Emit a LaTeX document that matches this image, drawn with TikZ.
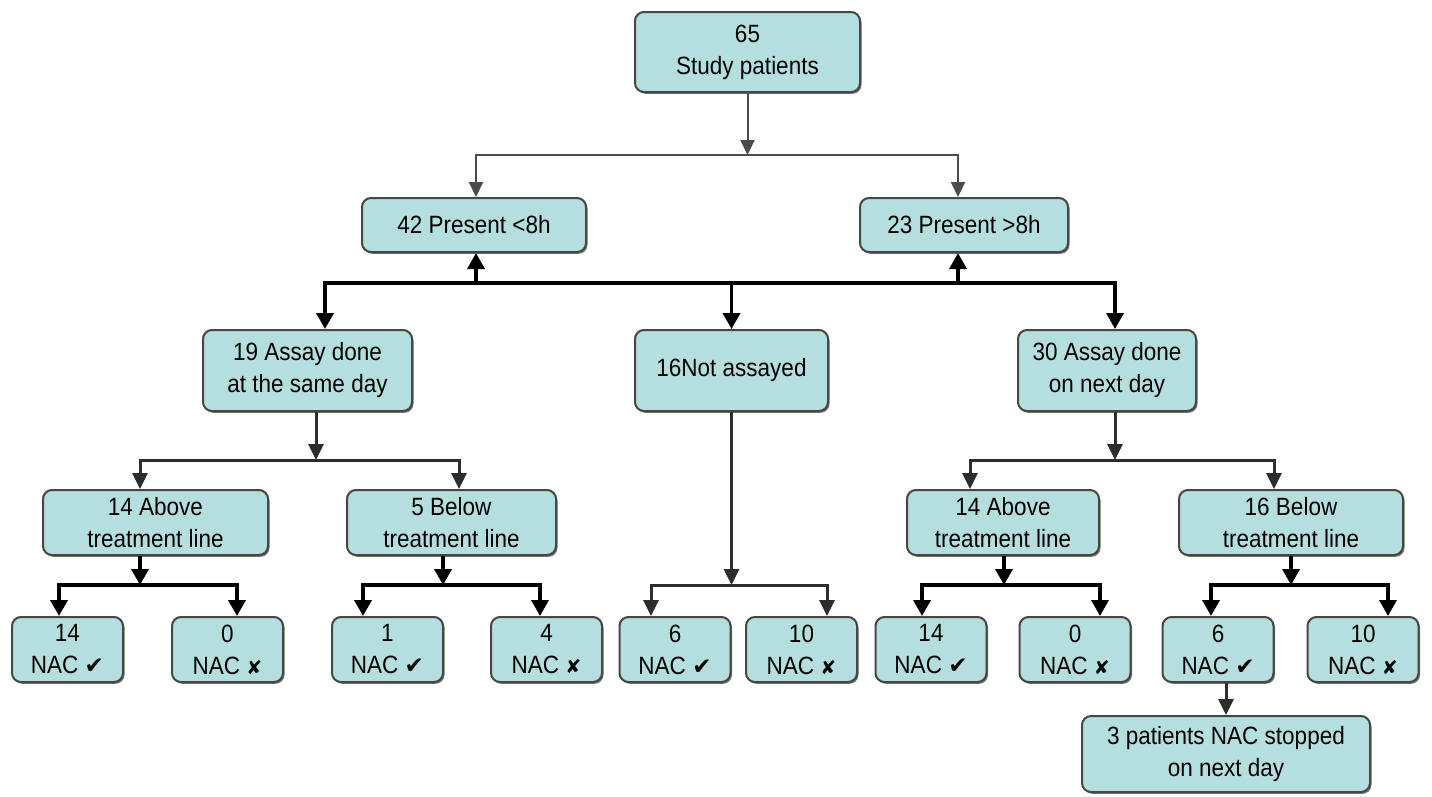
\documentclass[tikz,border=0pt]{standalone}
\usepackage{fontspec}
\setmainfont{Liberation Sans}[FakeStretch=0.9]
\newfontfamily\symf{DejaVu Sans}
\usetikzlibrary{arrows.meta,shadows}
\definecolor{boxfill}{RGB}{181,223,222}
\definecolor{boxline}{RGB}{70,70,70}
\definecolor{thinline}{RGB}{75,75,75}
\definecolor{medline}{RGB}{45,45,45}
\newcommand{\yesmark}{{\symf\fontsize{23}{23}\selectfont ✔}}
\newcommand{\nomark}{{\symf\fontsize{19}{19}\selectfont ✘}}
\begin{document}
\begin{tikzpicture}[x=1pt,y=-1pt,
  box/.style={draw=boxline, line width=2pt, fill=boxfill, rounded corners=9pt,
    align=center, inner sep=0pt, font=\fontsize{25}{32}\selectfont,
    drop shadow={shadow xshift=1.5pt,shadow yshift=-1.8pt,fill=black!55,opacity=1}},
  leaf/.style={box, minimum width=111pt, minimum height=65pt},
  thinc/.style={draw=thinline, line width=2pt},
  medc/.style={draw=medline, line width=3pt},
  thickc/.style={draw=black, line width=3.6pt},
  thinarr/.style={thinc, -{Triangle[length=15pt,width=14pt]}},
  medarr/.style={medc, -{Triangle[length=16pt,width=15pt]}},
  thickarr/.style={thickc, -{Triangle[length=16pt,width=17pt]}},
]
\path[use as bounding box, fill=white] (0,0) rectangle (1432,796);

% nodes
\node[box, minimum width=225pt, minimum height=80pt] (n65) at (747.5,52) {65\\Study patients};
\node[box, minimum width=224pt, minimum height=54pt] (p42) at (474,225) {42 Present <8h};
\node[box, minimum width=208pt, minimum height=54pt] (p23) at (964,225) {23 Present >8h};
\node[box, minimum width=209pt, minimum height=81pt] (a19) at (307.5,370.5) {19 Assay done\\at the same day};
\node[box, minimum width=193pt, minimum height=81pt] (n16) at (731.5,370.5) {16Not assayed};
\node[box, minimum width=178pt, minimum height=81pt] (a30) at (1107,370.5) {30 Assay done\\on next day};
\node[box, minimum width=225pt, minimum height=65pt] (ab14L) at (155.5,522.5) {14 Above\\treatment line};
\node[box, minimum width=209pt, minimum height=65pt] (be5) at (451.5,522.5) {5 Below\\treatment line};
\node[box, minimum width=192pt, minimum height=65pt] (ab14R) at (1003,522.5) {14 Above\\treatment line};
\node[box, minimum width=224pt, minimum height=65pt] (be16) at (1291,522.5) {16 Below\\treatment line};
\node[leaf] (l1) at (67.5,649.5) {14\\NAC \yesmark};
\node[leaf] (l2) at (227.5,649.5) {0\\NAC \nomark};
\node[leaf] (l3) at (387.5,649.5) {1\\NAC \yesmark};
\node[leaf] (l4) at (546.5,649.5) {4\\NAC \nomark};
\node[leaf] (l5) at (675,649.5) {6\\NAC \yesmark};
\node[leaf] (l6) at (801.5,649.5) {10\\NAC \nomark};
\node[leaf] (l7) at (931,649.5) {14\\NAC \yesmark};
\node[leaf] (l8) at (1075,649.5) {0\\NAC \nomark};
\node[leaf] (l9) at (1218,649.5) {6\\NAC \yesmark};
\node[leaf] (l10) at (1363,649.5) {10\\NAC \nomark};
\node[box, minimum width=288pt, minimum height=76pt] (stop) at (1226,754) {3 patients NAC stopped\\on next day};

% level 1
\coordinate (j65) at (747.5,155);
\coordinate (j65L) at (476,155);
\coordinate (j65R) at (958,155);
\draw[thinarr] (n65.south) -- (j65);
\draw[thinarr] (j65) -- (j65L) -- (j65L |- p42.north);
\draw[thinarr] (j65) -- (j65R) -- (j65R |- p23.north);

% level 2
\coordinate (jM) at (731.5,283);
\coordinate (jBL) at (325,283);
\coordinate (jBR) at (1115,283);
\coordinate (jB42) at (476,283);
\coordinate (jB23) at (958,283);
\draw[thickarr] (jM) -- (jBL) -- (jBL |- a19.north);
\draw[thickarr] (jM) -- (jBR) -- (jBR |- a30.north);
\draw[thickarr] (jM) -- (n16.north);
\draw[thickarr] (jB42) -- (jB42 |- p42.south);
\draw[thickarr] (jB23) -- (jB23 |- p23.south);

% level 3
\coordinate (j19) at (316,460);
\coordinate (j19L) at (140,460);
\coordinate (j19R) at (459,460);
\draw[medarr] (j19 |- a19.south) -- (j19);
\draw[medarr] (j19) -- (j19L) -- (j19L |- ab14L.north);
\draw[medarr] (j19) -- (j19R) -- (j19R |- be5.north);

\coordinate (j30) at (1115,460);
\coordinate (j30L) at (970,460);
\coordinate (j30R) at (1274,460);
\draw[medarr] (j30 |- a30.south) -- (j30);
\draw[medarr] (j30) -- (j30L) -- (j30L |- ab14R.north);
\draw[medarr] (j30) -- (j30R) -- (j30R |- be16.north);

% level 4
\coordinate (j16) at (731.5,585);
\coordinate (j16L) at (651,585);
\coordinate (j16R) at (827,585);
\draw[medarr] (n16.south) -- (j16);
\draw[medarr] (j16) -- (j16L) -- (j16L |- l5.north);
\draw[medarr] (j16) -- (j16R) -- (j16R |- l6.north);

\coordinate (jA) at (140,585);
\coordinate (jAL) at (59,585);
\coordinate (jAR) at (237,585);
\draw[thickarr] (jA |- ab14L.south) -- (jA);
\draw[thickarr] (jA) -- (jAL) -- (jAL |- l1.north);
\draw[thickarr] (jA) -- (jAR) -- (jAR |- l2.north);

\coordinate (jB) at (443,585);
\coordinate (jBBL) at (363,585);
\coordinate (jBBR) at (540,585);
\draw[thickarr] (jB |- be5.south) -- (jB);
\draw[thickarr] (jB) -- (jBBL) -- (jBBL |- l3.north);
\draw[thickarr] (jB) -- (jBBR) -- (jBBR |- l4.north);

\coordinate (jC) at (1004,585);
\coordinate (jCL) at (922,585);
\coordinate (jCR) at (1100,585);
\draw[thickarr] (jC |- ab14R.south) -- (jC);
\draw[thickarr] (jC) -- (jCL) -- (jCL |- l7.north);
\draw[thickarr] (jC) -- (jCR) -- (jCR |- l8.north);

\coordinate (jD) at (1291,585);
\coordinate (jDL) at (1211,585);
\coordinate (jDR) at (1388,585);
\draw[thickarr] (jD |- be16.south) -- (jD);
\draw[thickarr] (jD) -- (jDL) -- (jDL |- l9.north);
\draw[thickarr] (jD) -- (jDR) -- (jDR |- l10.north);

% level 5
\coordinate (x9) at (1226,700);
\draw[medarr] (x9 |- l9.south) -- (x9 |- stop.north);
\end{tikzpicture}
\end{document}
